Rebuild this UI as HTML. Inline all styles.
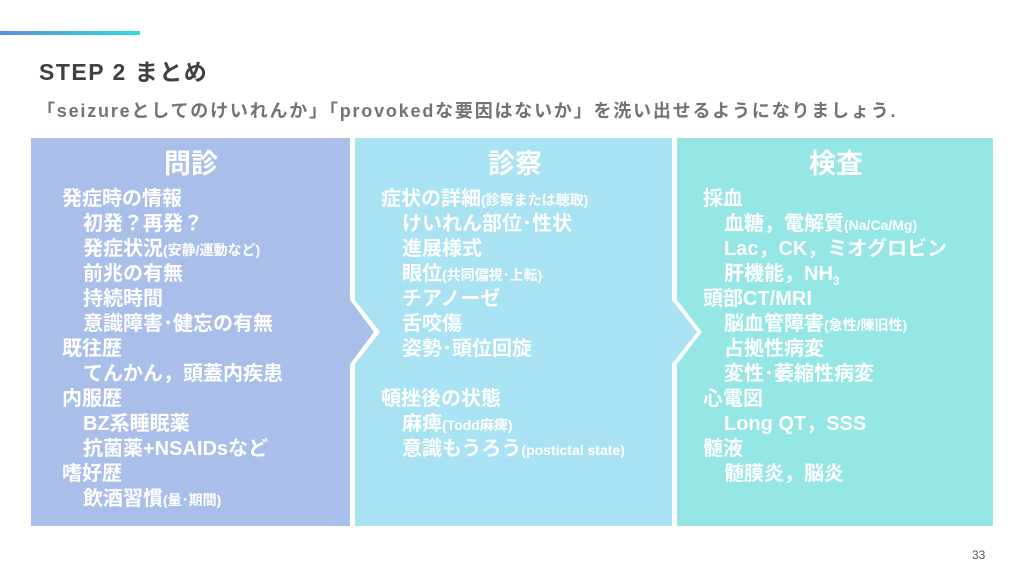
<!DOCTYPE html>
<html><head><meta charset="utf-8"><style>
body{margin:0;width:1024px;height:576px;position:relative;background:#fff;overflow:hidden;font-family:"Liberation Sans","Noto Sans CJK JP",sans-serif}
.t{position:absolute;white-space:nowrap}
.col{position:absolute;color:#fff;font-size:20px;font-weight:bold}
.col div{height:25px;line-height:25px;white-space:nowrap}
.col .i{padding-left:21px}
.h{color:#fff;font-size:27px;font-weight:bold;text-align:center;width:320px}
small{font-size:14px;font-weight:bold}
</style></head><body>
<div style="position:absolute;left:0;top:31px;width:140px;height:4px;background:linear-gradient(90deg,#5b8fdc,#2fdcd8)"></div>
<div class="t" style="left:39px;top:53px;font-size:23px;font-weight:bold;color:#404040;letter-spacing:1.5px">STEP 2 まとめ</div>
<div class="t" style="left:37px;top:97px;font-size:18px;font-weight:bold;color:#737373;letter-spacing:1.8px">「seizureとしてのけいれんか」「provokedな要因はないか」を洗い出せるようになりましょう.</div>
<svg width="1024" height="576" style="position:absolute;left:0;top:0">
<polygon points="31,138 350,138 350,300 374,332 350,364 350,526 31,526" fill="#a9bfea"/>
<polygon points="355,138 672,138 672,300 697,332 672,364 672,526 355,526 355,364 380,332 355,300" fill="#a9e2f2"/>
<polygon points="677,138 993,138 993,526 677,526 677,364 702,332 677,300" fill="#95e7e6"/>
</svg>
<div class="t h" style="left:31px;top:142px">問診</div>
<div class="t h" style="left:355px;top:142px">診察</div>
<div class="t h" style="left:676px;top:142px">検査</div>
<div class="col" style="left:62px;top:187px">
<div>発症時の情報</div><div class="i">初発？再発？</div><div class="i">発症状況<small>(安静/運動など)</small></div><div class="i">前兆の有無</div><div class="i">持続時間</div><div class="i">意識障害･健忘の有無</div><div>既往歴</div><div class="i">てんかん，頭蓋内疾患</div><div>内服歴</div><div class="i">BZ系睡眠薬</div><div class="i">抗菌薬+NSAIDsなど</div><div>嗜好歴</div><div class="i">飲酒習慣<small>(量･期間)</small></div>
</div>
<div class="col" style="left:381px;top:187px">
<div>症状の詳細<small>(診察または聴取)</small></div><div class="i">けいれん部位･性状</div><div class="i">進展様式</div><div class="i">眼位<small>(共同偏視･上転)</small></div><div class="i">チアノーゼ</div><div class="i">舌咬傷</div><div class="i">姿勢･頭位回旋</div><div></div><div>頓挫後の状態</div><div class="i">麻痺<small>(Todd麻痺)</small></div><div class="i">意識もうろう<small>(postictal state)</small></div>
</div>
<div class="col" style="left:703px;top:187px">
<div>採血</div><div class="i">血糖，電解質<small>(Na/Ca/Mg)</small></div><div class="i">Lac，CK，ミオグロビン</div><div class="i">肝機能，NH<span style="font-size:12px;position:relative;top:5px">3</span></div><div>頭部CT/MRI</div><div class="i">脳血管障害<small>(急性/陳旧性)</small></div><div class="i">占拠性病変</div><div class="i">変性･萎縮性病変</div><div>心電図</div><div class="i">Long QT，SSS</div><div>髄液</div><div class="i">髄膜炎，脳炎</div>
</div>
<div class="t" style="left:972px;top:548px;font-size:12px;color:#555">33</div>
</body></html>
